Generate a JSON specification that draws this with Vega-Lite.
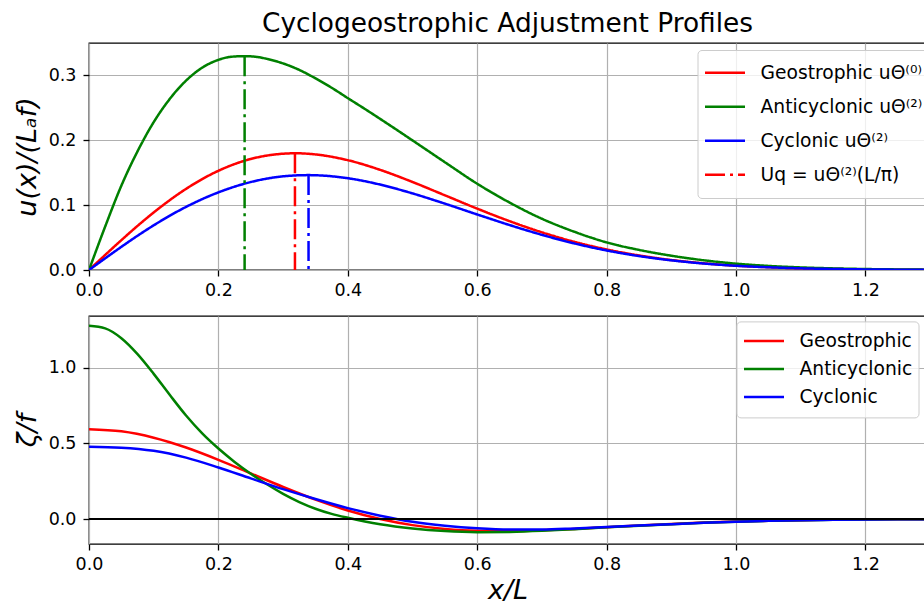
{
  "$schema": "https://vega.github.io/schema/vega-lite/v6.json",
  "padding": {"left": 12, "top": 9, "right": 0, "bottom": 0},
  "bounds": "flush",
  "spacing": 46,
  "background": "white",
  "config": {
    "font": "DejaVu Sans",
    "view": {"stroke": "black", "strokeWidth": 1.3},
    "axis": {
      "labelFont": "DejaVu Sans", "labelFontSize": 17.5, "labelColor": "black", "labelFlush": false,
      "tickColor": "black", "tickSize": 6, "tickWidth": 1.3,
      "domain": false,
      "gridColor": "#b0b0b0", "gridWidth": 1.2,
      "titleFont": "DejaVu Sans", "titleFontSize": 27, "titleFontWeight": "normal",
      "titleColor": "black", "titleFontStyle": "italic"
    },
    "axisX": {"labelPadding": 5, "titlePadding": 5},
    "axisY": {"labelPadding": 7, "titlePadding": 7},
    "legend": {
      "orient": "none", "title": null, "symbolType": "stroke", "symbolSize": 1600,
      "symbolStrokeWidth": 2.5, "labelFont": "DejaVu Sans", "labelFontSize": 18.7,
      "labelColor": "black", "labelOffset": 14, "labelLimit": 400, "padding": 6, "rowPadding": 0,
      "fillColor": "rgba(255,255,255,0.8)", "strokeColor": "#cccccc", "cornerRadius": 4
    }
  },
  "datasets": {
    "u": [
      {"x": 0, "u": 0, "s": "G"}, {"x": 0.025, "u": 0.0232, "s": "G"}, {"x": 0.05, "u": 0.046, "s": "G"},
      {"x": 0.075, "u": 0.068, "s": "G"}, {"x": 0.1, "u": 0.0887, "s": "G"}, {"x": 0.15, "u": 0.1251, "s": "G"},
      {"x": 0.2, "u": 0.153, "s": "G"}, {"x": 0.25, "u": 0.1712, "s": "G"}, {"x": 0.3, "u": 0.1793, "s": "G"},
      {"x": 0.3183, "u": 0.18, "s": "G"}, {"x": 0.35, "u": 0.1782, "s": "G"}, {"x": 0.4, "u": 0.1693, "s": "G"},
      {"x": 0.45, "u": 0.1544, "s": "G"}, {"x": 0.5, "u": 0.1357, "s": "G"}, {"x": 0.55, "u": 0.1152, "s": "G"},
      {"x": 0.6, "u": 0.0946, "s": "G"}, {"x": 0.65, "u": 0.0753, "s": "G"}, {"x": 0.7, "u": 0.0581, "s": "G"},
      {"x": 0.75, "u": 0.0435, "s": "G"}, {"x": 0.8, "u": 0.0317, "s": "G"}, {"x": 0.85, "u": 0.0224, "s": "G"},
      {"x": 0.9, "u": 0.0154, "s": "G"}, {"x": 0.95, "u": 0.0103, "s": "G"}, {"x": 1.0, "u": 0.0067, "s": "G"},
      {"x": 1.05, "u": 0.0043, "s": "G"}, {"x": 1.1, "u": 0.0026, "s": "G"}, {"x": 1.15, "u": 0.0016, "s": "G"},
      {"x": 1.2, "u": 0.0009, "s": "G"}, {"x": 1.25, "u": 0.0005, "s": "G"}, {"x": 1.3, "u": 0.0003, "s": "G"},

      {"x": 0, "u": 0, "s": "A"}, {"x": 0.025, "u": 0.067, "s": "A"}, {"x": 0.05, "u": 0.13, "s": "A"},
      {"x": 0.075, "u": 0.183, "s": "A"}, {"x": 0.1, "u": 0.228, "s": "A"}, {"x": 0.125, "u": 0.264, "s": "A"},
      {"x": 0.15, "u": 0.292, "s": "A"}, {"x": 0.175, "u": 0.312, "s": "A"}, {"x": 0.2, "u": 0.324, "s": "A"},
      {"x": 0.22, "u": 0.3288, "s": "A"}, {"x": 0.2405, "u": 0.3297, "s": "A"}, {"x": 0.26, "u": 0.3285, "s": "A"},
      {"x": 0.275, "u": 0.3255, "s": "A"}, {"x": 0.3, "u": 0.3185, "s": "A"}, {"x": 0.325, "u": 0.3085, "s": "A"},
      {"x": 0.35, "u": 0.2955, "s": "A"}, {"x": 0.375, "u": 0.281, "s": "A"}, {"x": 0.4, "u": 0.265, "s": "A"},
      {"x": 0.425, "u": 0.2492, "s": "A"}, {"x": 0.45, "u": 0.233, "s": "A"}, {"x": 0.475, "u": 0.2165, "s": "A"},
      {"x": 0.5, "u": 0.1998, "s": "A"}, {"x": 0.55, "u": 0.1662, "s": "A"}, {"x": 0.6, "u": 0.133, "s": "A"},
      {"x": 0.65, "u": 0.104, "s": "A"}, {"x": 0.7, "u": 0.079, "s": "A"}, {"x": 0.75, "u": 0.059, "s": "A"},
      {"x": 0.8, "u": 0.0426, "s": "A"}, {"x": 0.85, "u": 0.031, "s": "A"}, {"x": 0.9, "u": 0.022, "s": "A"},
      {"x": 0.95, "u": 0.015, "s": "A"}, {"x": 1.0, "u": 0.0098, "s": "A"}, {"x": 1.05, "u": 0.0063, "s": "A"},
      {"x": 1.1, "u": 0.004, "s": "A"}, {"x": 1.15, "u": 0.0025, "s": "A"}, {"x": 1.2, "u": 0.0015, "s": "A"},
      {"x": 1.25, "u": 0.0009, "s": "A"}, {"x": 1.3, "u": 0.0005, "s": "A"},

      {"x": 0, "u": 0, "s": "C"}, {"x": 0.025, "u": 0.018, "s": "C"}, {"x": 0.05, "u": 0.0357, "s": "C"},
      {"x": 0.075, "u": 0.0528, "s": "C"}, {"x": 0.1, "u": 0.0689, "s": "C"}, {"x": 0.15, "u": 0.0973, "s": "C"},
      {"x": 0.2, "u": 0.1197, "s": "C"}, {"x": 0.25, "u": 0.1356, "s": "C"}, {"x": 0.3, "u": 0.1444, "s": "C"},
      {"x": 0.3393, "u": 0.1463, "s": "C"}, {"x": 0.35, "u": 0.1461, "s": "C"}, {"x": 0.4, "u": 0.1415, "s": "C"},
      {"x": 0.45, "u": 0.1317, "s": "C"}, {"x": 0.5, "u": 0.1181, "s": "C"}, {"x": 0.55, "u": 0.1023, "s": "C"},
      {"x": 0.6, "u": 0.0856, "s": "C"}, {"x": 0.65, "u": 0.0693, "s": "C"}, {"x": 0.7, "u": 0.0542, "s": "C"},
      {"x": 0.75, "u": 0.041, "s": "C"}, {"x": 0.8, "u": 0.0301, "s": "C"}, {"x": 0.85, "u": 0.0215, "s": "C"},
      {"x": 0.9, "u": 0.0149, "s": "C"}, {"x": 0.95, "u": 0.01, "s": "C"}, {"x": 1.0, "u": 0.0065, "s": "C"},
      {"x": 1.05, "u": 0.0042, "s": "C"}, {"x": 1.1, "u": 0.0026, "s": "C"}, {"x": 1.15, "u": 0.0016, "s": "C"},
      {"x": 1.2, "u": 0.0009, "s": "C"}, {"x": 1.25, "u": 0.0005, "s": "C"}, {"x": 1.3, "u": 0.0003, "s": "C"}
    ],
    "peaks": [
      {"x": 0.2405, "top": 0.3297, "s": "A"},
      {"x": 0.3183, "top": 0.18, "s": "G"},
      {"x": 0.3393, "top": 0.1463, "s": "C"}
    ],
    "zeta": [
      {"x": 0, "z": 0.593, "s": "G"}, {"x": 0.05, "z": 0.5785, "s": "G"}, {"x": 0.1, "z": 0.5366, "s": "G"},
      {"x": 0.15, "z": 0.4718, "s": "G"}, {"x": 0.2, "z": 0.3907, "s": "G"}, {"x": 0.25, "z": 0.3013, "s": "G"},
      {"x": 0.3, "z": 0.2114, "s": "G"}, {"x": 0.35, "z": 0.1281, "s": "G"}, {"x": 0.4, "z": 0.0566, "s": "G"},
      {"x": 0.45, "z": 0.0001, "s": "G"}, {"x": 0.5, "z": -0.0404, "s": "G"}, {"x": 0.55, "z": -0.0657, "s": "G"},
      {"x": 0.6, "z": -0.0779, "s": "G"}, {"x": 0.65, "z": -0.08, "s": "G"}, {"x": 0.7, "z": -0.0749, "s": "G"},
      {"x": 0.75, "z": -0.0656, "s": "G"}, {"x": 0.8, "z": -0.0544, "s": "G"}, {"x": 0.85, "z": -0.043, "s": "G"},
      {"x": 0.9, "z": -0.0327, "s": "G"}, {"x": 0.95, "z": -0.0238, "s": "G"}, {"x": 1.0, "z": -0.0168, "s": "G"},
      {"x": 1.05, "z": -0.0114, "s": "G"}, {"x": 1.1, "z": -0.0075, "s": "G"}, {"x": 1.15, "z": -0.0048, "s": "G"},
      {"x": 1.2, "z": -0.003, "s": "G"}, {"x": 1.25, "z": -0.0018, "s": "G"}, {"x": 1.3, "z": -0.001, "s": "G"},

      {"x": 0, "z": 1.275, "s": "A"}, {"x": 0.025, "z": 1.258, "s": "A"}, {"x": 0.05, "z": 1.193, "s": "A"},
      {"x": 0.075, "z": 1.088, "s": "A"}, {"x": 0.1, "z": 0.958, "s": "A"}, {"x": 0.125, "z": 0.818, "s": "A"},
      {"x": 0.15, "z": 0.683, "s": "A"}, {"x": 0.175, "z": 0.565, "s": "A"}, {"x": 0.2, "z": 0.465, "s": "A"},
      {"x": 0.225, "z": 0.377, "s": "A"}, {"x": 0.25, "z": 0.299, "s": "A"}, {"x": 0.275, "z": 0.229, "s": "A"},
      {"x": 0.3, "z": 0.166, "s": "A"}, {"x": 0.325, "z": 0.112, "s": "A"}, {"x": 0.35, "z": 0.068, "s": "A"},
      {"x": 0.375, "z": 0.034, "s": "A"}, {"x": 0.4, "z": 0.008, "s": "A"}, {"x": 0.45, "z": -0.035, "s": "A"},
      {"x": 0.5, "z": -0.063, "s": "A"}, {"x": 0.55, "z": -0.08, "s": "A"}, {"x": 0.6, "z": -0.087, "s": "A"},
      {"x": 0.65, "z": -0.085, "s": "A"}, {"x": 0.7, "z": -0.078, "s": "A"}, {"x": 0.75, "z": -0.067, "s": "A"},
      {"x": 0.8, "z": -0.055, "s": "A"}, {"x": 0.85, "z": -0.044, "s": "A"}, {"x": 0.9, "z": -0.034, "s": "A"},
      {"x": 0.95, "z": -0.025, "s": "A"}, {"x": 1.0, "z": -0.018, "s": "A"}, {"x": 1.05, "z": -0.012, "s": "A"},
      {"x": 1.1, "z": -0.008, "s": "A"}, {"x": 1.15, "z": -0.005, "s": "A"}, {"x": 1.2, "z": -0.003, "s": "A"},
      {"x": 1.25, "z": -0.0018, "s": "A"}, {"x": 1.3, "z": -0.001, "s": "A"},

      {"x": 0, "z": 0.477, "s": "C"}, {"x": 0.05, "z": 0.471, "s": "C"}, {"x": 0.1, "z": 0.45, "s": "C"},
      {"x": 0.15, "z": 0.405, "s": "C"}, {"x": 0.2, "z": 0.34, "s": "C"}, {"x": 0.25, "z": 0.268, "s": "C"},
      {"x": 0.3, "z": 0.197, "s": "C"}, {"x": 0.35, "z": 0.132, "s": "C"}, {"x": 0.4, "z": 0.072, "s": "C"},
      {"x": 0.45, "z": 0.022, "s": "C"}, {"x": 0.5, "z": -0.018, "s": "C"}, {"x": 0.55, "z": -0.044, "s": "C"},
      {"x": 0.6, "z": -0.061, "s": "C"}, {"x": 0.65, "z": -0.069, "s": "C"}, {"x": 0.7, "z": -0.069, "s": "C"},
      {"x": 0.75, "z": -0.062, "s": "C"}, {"x": 0.8, "z": -0.053, "s": "C"}, {"x": 0.85, "z": -0.043, "s": "C"},
      {"x": 0.9, "z": -0.034, "s": "C"}, {"x": 0.95, "z": -0.025, "s": "C"}, {"x": 1.0, "z": -0.018, "s": "C"},
      {"x": 1.05, "z": -0.012, "s": "C"}, {"x": 1.1, "z": -0.008, "s": "C"}, {"x": 1.15, "z": -0.005, "s": "C"},
      {"x": 1.2, "z": -0.003, "s": "C"}, {"x": 1.25, "z": -0.0018, "s": "C"}, {"x": 1.3, "z": -0.001, "s": "C"}
    ]
  },
  "resolve": {
    "scale": {"color": "independent", "x": "independent", "y": "independent"},
    "legend": {"color": "independent"}
  },
  "vconcat": [
    {
      "width": 837,
      "height": 227,
      "title": {"text": "Cyclogeostrophic Adjustment Profiles", "fontSize": 26.4, "fontWeight": "normal", "color": "black", "offset": 6, "frame": "group", "anchor": "middle"},
      "layer": [
        {
          "data": {"name": "u"},
          "mark": {"type": "line", "strokeWidth": 2.5, "interpolate": "monotone", "clip": true},
          "encoding": {
            "x": {"field": "x", "type": "quantitative", "scale": {"domain": [0, 1.2936], "nice": false, "zero": false},
                  "axis": {"values": [0, 0.2, 0.4, 0.6, 0.8, 1.0, 1.2], "format": ".1f", "title": null}},
            "y": {"field": "u", "type": "quantitative", "scale": {"domain": [0, 0.35], "nice": false},
                  "axis": {"values": [0, 0.1, 0.2, 0.3], "format": ".1f", "title": "u(x)/(Lₐf)"}},
            "color": {"field": "s", "type": "nominal",
                      "scale": {"domain": ["G", "A", "C", "U"], "range": ["#ff0000", "#008000", "#0000ff", "#ff0000"]},
                      "legend": {"legendX": 608.5, "legendY": 7, "clipHeight": 33.5,
                                 "labelExpr": "datum.label == 'G' ? 'Geostrophic uΘ⁽⁰⁾' : datum.label == 'A' ? 'Anticyclonic uΘ⁽²⁾' : datum.label == 'C' ? 'Cyclonic uΘ⁽²⁾' : 'Uq = uΘ⁽²⁾(L/π)'",
                                 "encode": {"symbols": {"update": {"strokeDash": {"signal": "datum.value === 'U' ? [20, 5, 3, 5] : [1, 0]"}}}}}},
            "strokeDash": {"field": "s", "type": "nominal", "legend": null,
                           "scale": {"domain": ["G", "A", "C", "U"], "range": [[1, 0], [1, 0], [1, 0], [20, 5, 3, 5]]}}
          }
        },
        {
          "data": {"name": "peaks"},
          "mark": {"type": "rule", "strokeWidth": 2.5, "strokeDash": [20, 5, 3, 5]},
          "encoding": {
            "x": {"field": "x", "type": "quantitative"},
            "y": {"field": "top", "type": "quantitative"},
            "y2": {"datum": 0},
            "color": {"field": "s", "type": "nominal"}
          }
        }
      ]
    },
    {
      "width": 837,
      "height": 228,
      "layer": [
        {
          "data": {"name": "zeta"},
          "mark": {"type": "line", "strokeWidth": 2.5, "interpolate": "monotone", "clip": true},
          "encoding": {
            "x": {"field": "x", "type": "quantitative", "scale": {"domain": [0, 1.2936], "nice": false, "zero": false},
                  "axis": {"values": [0, 0.2, 0.4, 0.6, 0.8, 1.0, 1.2], "format": ".1f", "title": "x/L"}},
            "y": {"field": "z", "type": "quantitative", "scale": {"domain": [-0.165, 1.34], "nice": false, "zero": false},
                  "axis": {"values": [0, 0.5, 1.0], "format": ".1f", "title": "ζ/f"}},
            "color": {"field": "s", "type": "nominal",
                      "scale": {"domain": ["G", "A", "C"], "range": ["#ff0000", "#008000", "#0000ff"]},
                      "legend": {"legendX": 647.5, "legendY": 5.4, "clipHeight": 27.2,
                                 "labelExpr": "datum.label == 'G' ? 'Geostrophic' : datum.label == 'A' ? 'Anticyclonic' : 'Cyclonic'"}}
          }
        },
        {
          "data": {"values": [{}]},
          "mark": {"type": "rule", "color": "black", "strokeWidth": 2.2},
          "encoding": {"y": {"datum": 0, "type": "quantitative"}}
        }
      ]
    }
  ]
}
